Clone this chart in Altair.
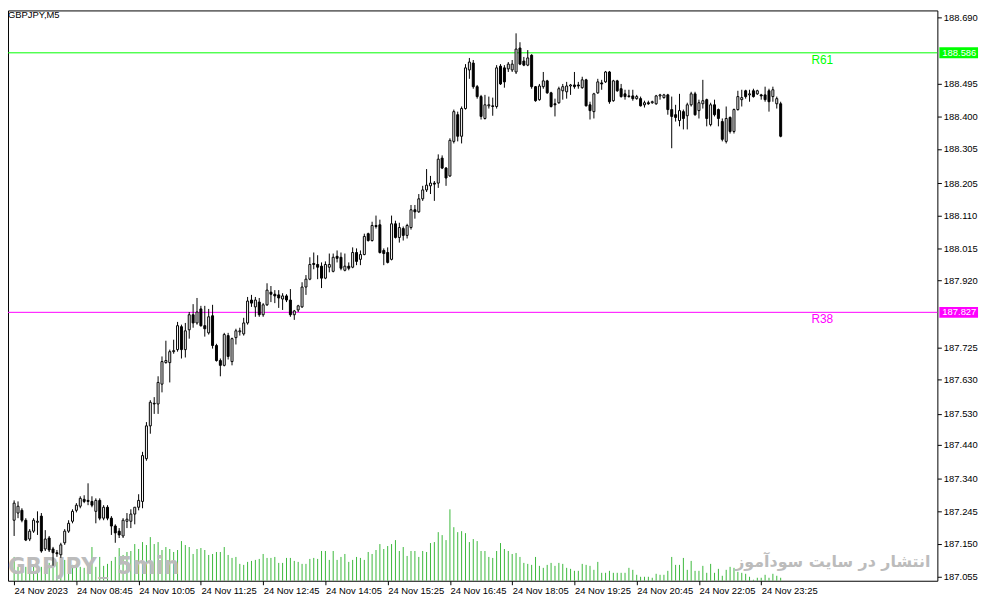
import json
import pandas as pd
import altair as alt

# GBPJPY M5, 24 Nov 2023, one bar every 5 minutes from 07:25 to 23:50
bar_open = [
    187.219, 187.240, 187.248, 187.219, 187.164, 187.187, 187.213, 187.231, 187.135, 187.167,
    187.135, 187.124, 187.118, 187.153, 187.187, 187.216, 187.248, 187.260, 187.280, 187.277,
    187.274, 187.245, 187.277, 187.225, 187.257, 187.225, 187.202, 187.187, 187.173, 187.216,
    187.216, 187.237, 187.257, 187.274, 187.399, 187.495, 187.561, 187.559, 187.617, 187.680,
    187.680, 187.712, 187.718, 187.785, 187.718, 187.776, 187.820, 187.796, 187.837, 187.788,
    187.767, 187.817, 187.730, 187.686, 187.672, 187.759, 187.683, 187.753, 187.770, 187.764,
    187.796, 187.863, 187.843, 187.857, 187.820, 187.849, 187.886, 187.880, 187.878, 187.866,
    187.875, 187.863, 187.820, 187.834, 187.843, 187.901, 187.924, 187.970, 187.967, 187.962,
    187.927, 187.959, 187.947, 187.991, 187.988, 187.950, 187.962, 187.959, 188.002, 187.982,
    187.996, 188.057, 188.037, 188.081, 188.083, 188.008, 188.002, 187.982, 188.086, 188.046,
    188.072, 188.052, 188.075, 188.127, 188.121, 188.159, 188.185, 188.197, 188.205, 188.205,
    188.278, 188.249, 188.226, 188.327, 188.405, 188.342, 188.423, 188.536, 188.556, 188.487,
    188.458, 188.394, 188.431, 188.431, 188.429, 188.547, 188.542, 188.539, 188.536, 188.530,
    188.600, 188.562, 188.550, 188.579, 188.487, 188.449, 188.487, 188.504, 188.469, 188.437,
    188.440, 188.475, 188.472, 188.489, 188.492, 188.492, 188.484, 188.507, 188.434, 188.414,
    188.469, 188.498, 188.501, 188.530, 188.446, 188.504, 188.481, 188.466, 188.460, 188.460,
    188.452, 188.452, 188.434, 188.440, 188.440, 188.437, 188.460, 188.455, 188.463, 188.420,
    188.405, 188.388, 188.414, 188.402, 188.434, 188.466, 188.417, 188.437, 188.449, 188.376,
    188.434, 188.420, 188.385, 188.327, 188.397, 188.356, 188.420, 188.449, 188.475, 188.463,
    188.475, 188.466, 188.463, 188.463, 188.475, 188.458, 188.437, 188.437,
]
bar_high = [
    187.277, 187.274, 187.254, 187.225, 187.193, 187.225, 187.245, 187.240, 187.190, 187.173,
    187.141, 187.132, 187.153, 187.193, 187.219, 187.251, 187.269, 187.289, 187.292, 187.327,
    187.289, 187.283, 187.283, 187.263, 187.263, 187.231, 187.207, 187.196, 187.225, 187.240,
    187.251, 187.254, 187.295, 187.419, 187.506, 187.570, 187.579, 187.640, 187.698, 187.744,
    187.718, 187.747, 187.799, 187.791, 187.796, 187.828, 187.851, 187.869, 187.846, 187.846,
    187.837, 187.849, 187.735, 187.692, 187.767, 187.767, 187.753, 187.779, 187.782, 187.811,
    187.872, 187.878, 187.872, 187.869, 187.854, 187.912, 187.904, 187.892, 187.892, 187.883,
    187.880, 187.895, 187.834, 187.849, 187.915, 187.936, 187.988, 188.002, 187.994, 187.973,
    187.976, 187.999, 187.999, 188.008, 188.002, 187.999, 187.973, 188.017, 188.014, 188.008,
    188.057, 188.060, 188.092, 188.110, 188.098, 188.014, 188.017, 188.110, 188.095, 188.089,
    188.078, 188.086, 188.141, 188.141, 188.173, 188.197, 188.246, 188.226, 188.211, 188.289,
    188.286, 188.252, 188.336, 188.420, 188.414, 188.429, 188.553, 188.571, 188.565, 188.492,
    188.463, 188.463, 188.458, 188.455, 188.550, 188.553, 188.550, 188.559, 188.565, 188.643,
    188.617, 188.574, 188.594, 188.582, 188.489, 188.495, 188.530, 188.507, 188.472, 188.452,
    188.487, 188.495, 188.501, 188.495, 188.530, 188.501, 188.516, 188.510, 188.443, 188.469,
    188.510, 188.507, 188.533, 188.533, 188.507, 188.507, 188.495, 188.478, 188.478, 188.478,
    188.463, 188.458, 188.446, 188.446, 188.446, 188.463, 188.466, 188.466, 188.466, 188.458,
    188.434, 188.466, 188.420, 188.440, 188.472, 188.472, 188.449, 188.507, 188.452, 188.440,
    188.449, 188.423, 188.394, 188.429, 188.400, 188.423, 188.475, 188.478, 188.478, 188.478,
    188.481, 188.478, 188.466, 188.487, 188.481, 188.487, 188.458, 188.443,
]
bar_low = [
    187.173, 187.225, 187.213, 187.158, 187.158, 187.182, 187.176, 187.124, 187.129, 187.126,
    187.086, 187.112, 187.109, 187.147, 187.182, 187.210, 187.242, 187.254, 187.269, 187.263,
    187.257, 187.210, 187.219, 187.219, 187.219, 187.176, 187.153, 187.167, 187.167, 187.196,
    187.196, 187.207, 187.248, 187.254, 187.393, 187.472, 187.530, 187.530, 187.593, 187.677,
    187.622, 187.706, 187.712, 187.692, 187.695, 187.750, 187.782, 187.791, 187.785, 187.756,
    187.762, 187.721, 187.683, 187.640, 187.669, 187.689, 187.672, 187.733, 187.759, 187.759,
    187.791, 187.843, 187.814, 187.814, 187.814, 187.846, 187.857, 187.854, 187.840, 187.834,
    187.857, 187.814, 187.805, 187.828, 187.840, 187.878, 187.921, 187.953, 187.924, 187.898,
    187.924, 187.944, 187.944, 187.973, 187.950, 187.947, 187.950, 187.956, 187.965, 187.965,
    187.994, 188.034, 188.034, 188.072, 187.999, 187.965, 187.970, 187.979, 188.043, 188.031,
    188.037, 188.043, 188.069, 188.101, 188.118, 188.153, 188.179, 188.173, 188.153, 188.191,
    188.246, 188.197, 188.223, 188.321, 188.327, 188.321, 188.420, 188.510, 188.481, 188.452,
    188.391, 188.391, 188.423, 188.402, 188.423, 188.492, 188.484, 188.530, 188.530, 188.524,
    188.550, 188.547, 188.547, 188.481, 188.443, 188.446, 188.481, 188.466, 188.426, 188.400,
    188.437, 188.449, 188.452, 188.463, 188.481, 188.481, 188.481, 188.429, 188.391, 188.394,
    188.466, 188.478, 188.498, 188.437, 188.443, 188.472, 188.455, 188.449, 188.455, 188.446,
    188.449, 188.429, 188.426, 188.434, 188.437, 188.434, 188.449, 188.452, 188.405, 188.307,
    188.385, 188.371, 188.362, 188.362, 188.429, 188.402, 188.394, 188.423, 188.371, 188.371,
    188.400, 188.371, 188.327, 188.321, 188.350, 188.350, 188.417, 188.429, 188.452, 188.443,
    188.455, 188.463, 188.449, 188.443, 188.414, 188.443, 188.423, 188.339,
]
bar_close = [
    187.269, 187.260, 187.219, 187.161, 187.187, 187.219, 187.216, 187.129, 187.164, 187.132,
    187.124, 187.121, 187.147, 187.187, 187.210, 187.245, 187.263, 187.283, 187.274, 187.274,
    187.263, 187.277, 187.225, 187.257, 187.225, 187.202, 187.182, 187.176, 187.219, 187.222,
    187.237, 187.257, 187.277, 187.408, 187.495, 187.564, 187.559, 187.622, 187.683, 187.686,
    187.712, 187.715, 187.788, 187.718, 187.773, 187.820, 187.796, 187.828, 187.788, 187.779,
    187.814, 187.730, 187.686, 187.672, 187.762, 187.698, 187.750, 187.773, 187.773, 187.796,
    187.860, 187.854, 187.863, 187.820, 187.849, 187.892, 187.880, 187.875, 187.869, 187.875,
    187.863, 187.820, 187.831, 187.846, 187.901, 187.924, 187.967, 187.967, 187.959, 187.927,
    187.967, 187.967, 187.988, 187.985, 187.956, 187.962, 187.956, 188.002, 187.976, 187.996,
    188.049, 188.037, 188.081, 188.078, 188.002, 187.999, 187.973, 188.086, 188.046, 188.075,
    188.052, 188.081, 188.127, 188.121, 188.159, 188.185, 188.199, 188.205, 188.202, 188.275,
    188.249, 188.220, 188.330, 188.414, 188.342, 188.423, 188.542, 188.559, 188.487, 188.458,
    188.400, 188.434, 188.434, 188.429, 188.542, 188.495, 188.501, 188.553, 188.553, 188.597,
    188.553, 188.550, 188.571, 188.487, 188.446, 188.489, 188.504, 188.469, 188.429, 188.434,
    188.481, 188.487, 188.489, 188.492, 188.487, 188.489, 188.507, 188.431, 188.417, 188.466,
    188.501, 188.495, 188.530, 188.443, 188.504, 188.475, 188.458, 188.458, 188.458, 188.452,
    188.458, 188.431, 188.440, 188.437, 188.443, 188.460, 188.463, 188.463, 188.420, 188.400,
    188.397, 188.417, 188.394, 188.434, 188.466, 188.405, 188.440, 188.446, 188.394, 188.434,
    188.405, 188.394, 188.333, 188.394, 188.356, 188.420, 188.458, 188.455, 188.458, 188.466,
    188.458, 188.475, 188.460, 188.449, 188.443, 188.478, 188.452, 188.342,
]
# tick volume, relative units
tick_volume = [
    24, 14, 12, 14, 13, 14, 12, 14, 14, 18, 21, 19, 17, 21, 16, 16, 14, 14, 13, 17,
    34, 14, 24, 15, 17, 20, 24, 33, 26, 29, 30, 37, 32, 39, 36, 44, 37, 39, 31, 34,
    32, 29, 31, 40, 36, 34, 27, 32, 33, 31, 26, 27, 29, 29, 34, 26, 23, 24, 17, 16,
    19, 20, 21, 22, 27, 23, 23, 24, 18, 18, 23, 23, 20, 19, 17, 17, 22, 23, 22, 30,
    30, 21, 30, 21, 24, 27, 19, 21, 24, 23, 21, 29, 27, 31, 37, 32, 35, 37, 41, 30,
    34, 25, 30, 30, 24, 30, 29, 38, 39, 49, 46, 41, 72, 54, 49, 50, 48, 39, 42, 40,
    30, 30, 24, 23, 30, 38, 32, 30, 27, 28, 24, 18, 17, 16, 24, 15, 13, 16, 18, 15,
    18, 17, 13, 12, 10, 10, 17, 16, 15, 11, 19, 8, 8, 10, 8, 8, 8, 8, 13, 11,
    6, 4, 4, 4, 3, 7, 6, 6, 10, 24, 16, 16, 23, 11, 20, 10, 10, 15, 8, 17,
    8, 12, 5, 11, 14, 13, 9, 8, 7, 4, 1, 3, 3, 6, 3, 7, 5, 3,
]

time_labels = [
    "24 Nov 2023", "24 Nov 08:45", "24 Nov 10:05", "24 Nov 11:25", "24 Nov 12:45",
    "24 Nov 14:05", "24 Nov 15:25", "24 Nov 16:45", "24 Nov 18:05", "24 Nov 19:25",
    "24 Nov 20:45", "24 Nov 22:05", "24 Nov 23:25",
]
price_ticks = [
    188.690, 188.495, 188.400, 188.305, 188.205, 188.110, 188.015, 187.920,
    187.725, 187.630, 187.530, 187.440, 187.340, 187.245, 187.150, 187.055,
]
level_names = ["R61", "R38"]
level_prices = [188.586, 187.827]
level_colors = ["#00ff00", "#ff00ff"]

W, H = 937, 575
FONT = "Liberation Sans"
VOL_GREEN = "#3cb83c"
MARK_GREY = "#bcbcbc"

bars = pd.DataFrame({
    "bar": range(len(bar_open)),
    "open": bar_open,
    "high": bar_high,
    "low": bar_low,
    "close": bar_close,
    "volume": tick_volume,
})
levels = pd.DataFrame({"name": level_names, "price": level_prices})

# shared x: bar index, labelled every 16 bars (80 minutes) like the terminal
x_bar = alt.X(
    "bar:Q",
    scale=alt.Scale(domain=[-0.3, 236], nice=False, zero=False),
    axis=alt.Axis(
        values=list(range(0, len(bar_open), 16)),
        labelExpr=f"{json.dumps(time_labels)}[round(datum.value / 16)]",
        title=None, grid=False, domain=False,
        tickColor="black", tickSize=4,
        labelAlign="left", labelBaseline="top", labelPadding=1,
        labelFont=FONT, labelFontSize=9.5, labelColor="black",
        labelOverlap=False, labelFlush=False,
    ),
)
price_scale = alt.Scale(domain=[187.042, 188.710], nice=False, zero=False)
price_axis = alt.Axis(
    orient="right", values=price_ticks, format=".3f", title=None,
    grid=False, domain=False, tickColor="black", tickSize=4, labelPadding=2,
    labelFont=FONT, labelFontSize=9.5, labelColor="black",
    labelOverlap=False, labelFlush=False,
)


def price(field):
    return alt.Y(field, type="quantitative", scale=price_scale, axis=price_axis)


level_color = alt.Color(
    "name:N", scale=alt.Scale(domain=level_names, range=level_colors), legend=None
)


def text_layer(text, **mark):
    return alt.Chart(pd.DataFrame({"t": [text]})).mark_text(**mark).encode(text="t:N")


# volume histogram drawn along the bottom of the price window
volumes = alt.Chart(bars).mark_rule(color=VOL_GREEN, strokeWidth=1).encode(
    x=x_bar,
    y=alt.Y("volume:Q", scale=alt.Scale(domain=[0, H]), axis=None),
    y2=alt.datum(0),
)

# watermarks
wm_font = "DejaVu Sans Condensed, Liberation Sans"
wm_pair = text_layer("GBPJPY", x=0, y=568, align="left", baseline="alphabetic",
                     font=wm_font, fontWeight="bold", fontSize=24, color=MARK_GREY)
wm_dash = text_layer("_", x=91, y=568, align="left", baseline="alphabetic",
                     font=wm_font, fontWeight="bold", fontSize=22, color=MARK_GREY)
wm_tf = text_layer("5min", x=110, y=568, align="left", baseline="alphabetic",
                   font=wm_font, fontWeight="bold", fontSize=25, color=MARK_GREY)
wm_site = text_layer("انتشار در سایت سودآموز", x=930, y=556, align="right",
                     baseline="middle", font="DejaVu Sans", fontWeight="bold",
                     fontSize=16, color=MARK_GREY)

# candles
wicks = alt.Chart(bars).mark_rule(color="black", strokeWidth=1).encode(
    x=x_bar, y=price("low"), y2="high"
)
bodies = alt.Chart(bars).mark_bar(width=2, stroke="black", strokeWidth=1).encode(
    x=x_bar,
    y=price("open"),
    y2="close",
    fill=alt.condition("datum.close >= datum.open", alt.value("white"), alt.value("black")),
)

# fibo levels with their tags and price boxes
level_lines = alt.Chart(levels).mark_rule(strokeWidth=1).encode(
    y=price("price"), color=level_color
)
level_tags = alt.Chart(levels).mark_text(
    x=810, align="left", baseline="top", dy=2, font=FONT, fontSize=12
).encode(y=price("price"), text="name:N", color=level_color)
level_boxes = alt.Chart(levels).mark_rule(x=939, x2=978, strokeWidth=11).encode(
    y=price("price"), color=level_color
)
level_values = alt.Chart(levels).mark_text(
    x=942, align="left", baseline="middle", font=FONT, fontSize=9.5, color="white"
).encode(y=price("price"), text=alt.Text("price:Q", format=".3f"))

price_layer = alt.layer(level_lines, wicks, bodies, level_tags, level_boxes, level_values)

symbol = text_layer("GBPJPY,M5", x=0, y=5, align="left", baseline="middle",
                    font=FONT, fontSize=9.5, color="black")

chart = (
    alt.layer(volumes, wm_pair, wm_dash, wm_tf, wm_site, price_layer, symbol)
    .resolve_scale(y="independent")
    .properties(
        width=W,
        height=H,
        background="white",
        padding={"left": 0, "top": 0, "right": 46, "bottom": 22},
        autosize=alt.AutoSizeParams(type="none"),
    )
    .configure_view(stroke="black", strokeWidth=1)
)

chart.save("out.html", embed_options={"renderer": "svg", "actions": False})
